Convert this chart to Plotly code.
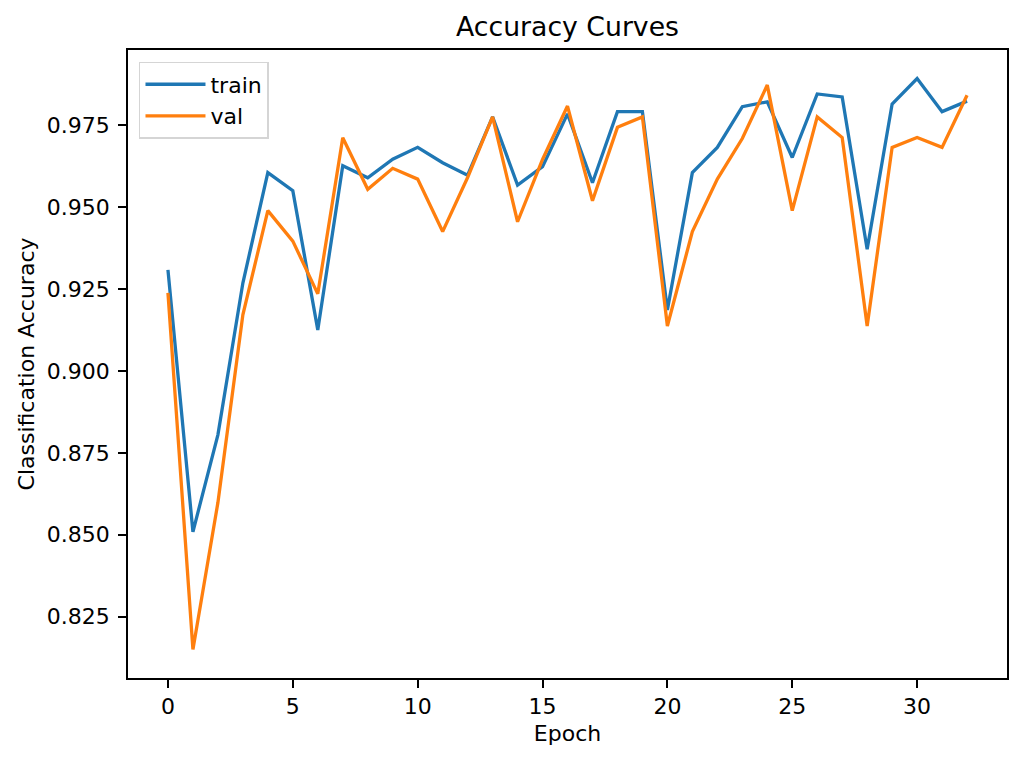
import plotly.graph_objects as go

# accuracy per epoch
epochs = list(range(33))
train_acc = [0.9308, 0.8509, 0.8805, 0.9268, 0.9605, 0.9550, 0.9125, 0.9626,
             0.9589, 0.9646, 0.9682, 0.9635, 0.9597, 0.9775, 0.9567, 0.9623,
             0.9784, 0.9574, 0.9791, 0.9791, 0.9186, 0.9605, 0.9682, 0.9806,
             0.9821, 0.9651, 0.9845, 0.9836, 0.9371, 0.9814, 0.9892, 0.9791,
             0.9823]
val_acc = [0.9238, 0.8150, 0.8598, 0.9171, 0.9489, 0.9396, 0.9235, 0.9711,
           0.9554, 0.9618, 0.9585, 0.9425, 0.9590, 0.9775, 0.9455, 0.9645,
           0.9808, 0.9519, 0.9743, 0.9775, 0.9137, 0.9425, 0.9585, 0.9709,
           0.9872, 0.9489, 0.9775, 0.9712, 0.9137, 0.9682, 0.9712, 0.9682,
           0.9841]

x_ticks = [0, 5, 10, 15, 20, 25, 30]
y_ticks = [0.825, 0.850, 0.875, 0.900, 0.925, 0.950, 0.975]

font = "DejaVu Sans"

fig = go.Figure()
fig.add_trace(go.Scatter(x=epochs, y=train_acc, mode="lines", name="train",
                         line=dict(color="#1f77b4", width=3.3)))
fig.add_trace(go.Scatter(x=epochs, y=val_acc, mode="lines", name="val",
                         line=dict(color="#ff7f0e", width=3.3)))

axis_common = dict(
    showline=True, mirror=True, linecolor="black", linewidth=1.8,
    ticks="outside", ticklen=8, tickwidth=1.8, tickcolor="black",
    showgrid=False, zeroline=False,
    tickfont=dict(family=font, size=22, color="black"),
)

# the page body adds an 8px offset, so the figure is a bit smaller
fig.update_layout(
    width=1016, height=756,
    margin=dict(l=120, r=17, t=42, b=86),
    paper_bgcolor="white", plot_bgcolor="white",
    font=dict(family=font, size=22, color="black"),
    title=dict(text="Accuracy Curves", x=(120 + 879 / 2) / 1016,
               xanchor="center", y=1 - 19 / 756, yanchor="middle",
               font=dict(family=font, size=26.7, color="black")),
    showlegend=True,
    legend=dict(x=0.0125, y=0.981, xanchor="left", yanchor="top",
                bgcolor="white", bordercolor="#d5d5d5", borderwidth=1.5,
                font=dict(family=font, size=22, color="black"),
                tracegroupgap=0, itemwidth=60),
)

fig.update_xaxes(range=[-1.6, 33.6], tickvals=x_ticks,
                 title=dict(text="Epoch", standoff=7,
                            font=dict(family=font, size=22, color="black")),
                 ticklabelstandoff=0, **axis_common)
fig.update_yaxes(range=[0.8063, 0.9979], tickvals=y_ticks,
                 ticktext=[f"{v:.3f}" for v in y_ticks],
                 title=dict(text="Classification Accuracy", standoff=6,
                            font=dict(family=font, size=22, color="black")),
                 ticklabelstandoff=4, **axis_common)

fig.write_html("out.html")
